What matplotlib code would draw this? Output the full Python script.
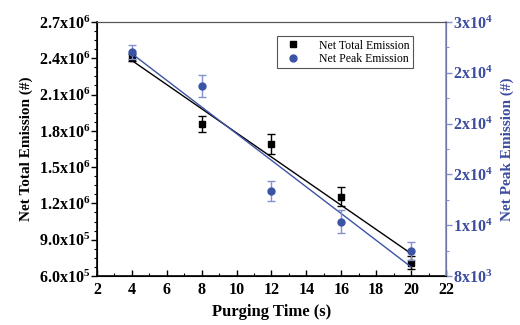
import numpy as np
import matplotlib

matplotlib.use("Agg")
import matplotlib.pyplot as plt
from matplotlib.ticker import MultipleLocator, AutoMinorLocator

# data
time_s = [4, 8, 12, 16, 20]
total_emission = [2.405e6, 1.857e6, 1.689e6, 1.256e6, 0.71e6]
total_err = [3.0e4, 6.5e4, 8.3e4, 8.0e4, 5.5e4]
peak_emission = [25640, 22960, 14670, 12280, 9990]
peak_err = [550, 850, 790, 890, 700]

left_ticks = [6.0e5, 9.0e5, 1.2e6, 1.5e6, 1.8e6, 2.1e6, 2.4e6, 2.7e6]
left_labels = ["6.0x10$^{5}$", "9.0x10$^{5}$", "1.2x10$^{6}$", "1.5x10$^{6}$",
               "1.8x10$^{6}$", "2.1x10$^{6}$", "2.4x10$^{6}$", "2.7x10$^{6}$"]
right_ticks = [8000, 12000, 16000, 20000, 24000, 28000]
right_labels = ["8x10$^{3}$", "1x10$^{4}$", "2x10$^{4}$", "2x10$^{4}$",
                "2x10$^{4}$", "3x10$^{4}$"]

BLUE = "#3b54a6"
BLUE_LIGHT = "#8391cc"
BLUE_TEXT = "#3c4c9f"

plt.rcParams["font.family"] = "Liberation Serif"
plt.rcParams["font.weight"] = "bold"
plt.rcParams["mathtext.fontset"] = "custom"
plt.rcParams["mathtext.rm"] = "Liberation Serif:weight=bold"
plt.rcParams["mathtext.it"] = "Liberation Serif:weight=bold"
plt.rcParams["mathtext.bf"] = "Liberation Serif:weight=bold"
plt.rcParams["mathtext.default"] = "bf"

fig = plt.figure(figsize=(5.2, 3.25), dpi=100)
ax = fig.add_axes([0.1865, 0.1508, 0.6712, 0.7815])
ax2 = ax.twinx()

x = np.array(time_s)

# total emission (left axis)
ax.errorbar(time_s, total_emission, yerr=total_err, fmt="none", ecolor="black",
            elinewidth=1.0, capsize=3, capthick=1.0, zorder=3)
h1, = ax.plot(time_s, total_emission, ls="none", marker="s", ms=4.5, color="black",
              label="Net Total Emission", zorder=4)
k, b = np.polyfit(x, total_emission, 1)
ax.plot(x[[0, -1]], k * x[[0, -1]] + b, color="black", lw=1.0, zorder=2)

# peak emission (right axis)
ax2.errorbar(time_s, peak_emission, yerr=peak_err, fmt="none", ecolor=BLUE_LIGHT,
             elinewidth=1.0, capsize=3, capthick=1.0, zorder=3)
h2, = ax2.plot(time_s, peak_emission, ls="none", marker="o", ms=5, color=BLUE,
               label="Net Peak Emission", zorder=4)
k2, b2 = np.polyfit(x, peak_emission, 1)
ax2.plot(x[[0, -1]], k2 * x[[0, -1]] + b2, color=BLUE, lw=1.0, zorder=2)

ax.set_xlim(2, 22)
ax.set_ylim(6.0e5, 2.7e6)
ax2.set_ylim(8000, 28000)

ax.xaxis.set_major_locator(MultipleLocator(2))
ax.xaxis.set_minor_locator(AutoMinorLocator(2))
ax.set_yticks(left_ticks)
ax.set_yticklabels(left_labels)
ax.yaxis.set_minor_locator(AutoMinorLocator(4))
ax2.set_yticks(right_ticks)
ax2.set_yticklabels(right_labels)
ax2.yaxis.set_minor_locator(AutoMinorLocator(2))

ax.tick_params(axis="x", which="major", direction="in", length=4, width=1, labelsize=11.5, pad=4)
ax.tick_params(axis="x", which="minor", direction="in", length=2.5, width=0.8)
ax.tick_params(axis="y", which="major", direction="out", length=4, width=1, labelsize=11.5, pad=1)
ax.tick_params(axis="y", which="minor", direction="out", length=2.5, width=0.8)
ax.tick_params(top=False, which="both")
ax2.tick_params(axis="y", which="major", direction="out", length=4, width=1, labelsize=11.5,
                pad=1, colors=BLUE_LIGHT, labelcolor=BLUE_TEXT)
ax2.tick_params(axis="y", which="minor", direction="out", length=2.5, width=0.8,
                colors=BLUE_LIGHT)

for a in (ax, ax2):
    a.spines["top"].set_color("#555555")
ax2.spines["right"].set_color(BLUE_LIGHT)
ax2.spines["right"].set_linewidth(1.2)
ax.spines["left"].set_linewidth(1.2)
ax.spines["bottom"].set_linewidth(1.2)

ax.set_xlabel("Purging Time (s)", fontsize=12, fontweight="bold", labelpad=5)
ax.set_ylabel("Net Total Emission (#)", fontsize=11, fontweight="bold", labelpad=4)
ax2.set_ylabel("Net Peak Emission (#)", fontsize=11, fontweight="bold",
               color=BLUE_TEXT, labelpad=6)

leg = ax2.legend(handles=[h1, h2], loc="upper right", bbox_to_anchor=(0.905, 0.945),
                 frameon=True, fancybox=False, edgecolor="#555555", framealpha=1,
                 prop={"family": "Liberation Serif", "weight": "normal", "size": 8.5},
                 handlelength=2.0, handletextpad=1.2, borderpad=0.3, labelspacing=0.1,
                 borderaxespad=0)
leg.get_frame().set_linewidth(0.8)

fig.savefig("out.png", dpi=100)
plt.close(fig)
